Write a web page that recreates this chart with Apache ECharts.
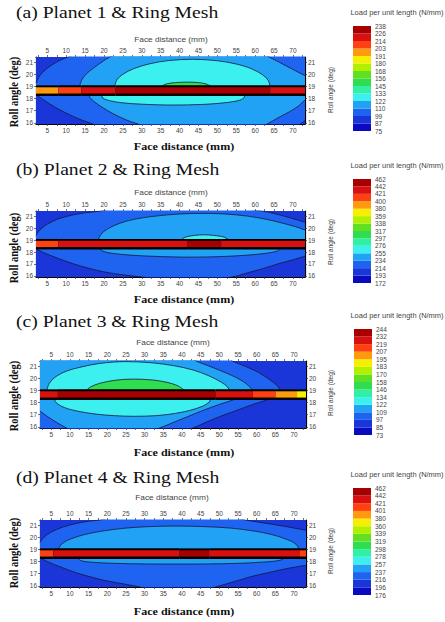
<!DOCTYPE html>
<html><head><meta charset="utf-8">
<script src="https://cdn.jsdelivr.net/npm/echarts@6/dist/echarts.min.js"></script>
<style>html,body{margin:0;padding:0;background:#fff}#c{width:445px;height:622px}</style>
</head><body><div id="c"></div>
<script>
// ---------- data ----------
const faceTicks = [5,10,15,20,25,30,35,40,45,50,55,60,65,70];
const faceMinorTicks = [2.5,5,7.5,10,12.5,15,17.5,20,22.5,25,27.5,30,32.5,35,37.5,40,42.5,45,47.5,50,52.5,55,57.5,60,62.5,65,67.5,70,72.5];
const rollTicks = [16,17,18,19,20,21];
const titles = ['(a) Planet 1 & Ring Mesh','(b) Planet 2 & Ring Mesh','(c) Planet 3 & Ring Mesh','(d) Planet 4 & Ring Mesh'];
// colour levels of the legend, bottom -> top
const palette = ['#0a0ac0','#1a36d8','#1e64f0','#22a2f4','#3cf0f0','#30f0a8','#30dc50','#60e020','#b0f000','#f4f000','#ff9a10','#ff4010','#d81010','#a80000'];
// legend boundary labels, bottom -> top
const legendA = [75,87,99,110,122,133,145,156,168,180,191,203,214,226,238];
const legendB = [172,193,214,234,255,276,297,317,338,359,380,400,421,442,462];
const legendC = [73,85,97,109,122,134,146,158,170,183,195,207,219,232,244];
const legendD = [176,196,216,237,257,278,298,319,339,360,380,401,421,442,462];
// contact line band (roll angle, deg): outer black band and inner loaded band
const stripOuter = [18.22, 19.1];
const stripInner = [18.42, 18.94];
// strip segments: [from mm, to mm, level]
const stripA = [[2,8,10],[8,14,11],[14,23,12],[23,64,13],[64,73.2,12]];
const stripB = [[2,8,11],[8,42,12],[42,51,13],[51,73.2,12]];
const stripC = [[2,6.8,12],[6.8,49,13],[49,59,12],[59,65,11],[65,70.8,10],[70.8,73.2,9]];
const stripD = [[2,5.6,11],[5.6,39.3,12],[39.3,47.3,13],[47.3,71.6,12],[71.6,73.2,11]];
// upper half contours: [level inside, boundary points (face mm, roll deg)] painted in order
const upperA = [
 [1, [[2,21.45],[73.2,21.45]]],
 [2, [[2,19.3],[3,19.9],[4.5,20.4],[6.5,20.85],[8.5,21.2],[10.5,21.45],[13,21.75],[20,22.2],[60,22.2],[73.2,22.2]]],
 [3, [[13.5,19.0],[14.2,19.6],[15.5,20.1],[17.5,20.6],[19.5,21.05],[21.5,21.45],[25,21.9],[35,22.2],[55,22.2],[61,21.9],[63.7,21.45],[66.5,21.0],[69.5,20.5],[73.2,19.9]]],
 [4, [[22.8,19.0],[23.5,19.59],[25,20.02],[28,20.5],[32,20.88],[37,21.15],[43.4,21.26],[50,21.14],[55,20.87],[59,20.48],[62,19.97],[63.4,19.54],[64,19.0]]],
 [6, [[35,19.0],[36.5,19.22],[39,19.33],[42,19.37],[45,19.33],[47,19.22],[48.5,19.0]]]
];
// lower half contours: [level outside (below), boundary points] painted in order
const lowerA = [
 [4, [[2,18.4],[73.2,18.4]]],
 [3, [[2,18.4],[19,18.4],[19.7,18.05],[21.5,17.83],[25,17.65],[30,17.54],[38.3,17.47],[46,17.52],[51,17.63],[55,17.8],[56.9,18.02],[57.6,18.4],[73.2,18.4]]],
 [2, [[2,18.4],[15.5,18.4],[16.5,18.0],[18.5,17.5],[21,17.0],[24,16.5],[27,16.1],[29,15.9],[31,15.6],[40,15.3],[55,15.3],[61,15.6],[63.2,15.9],[66,16.4],[69,16.9],[71.5,17.4],[73.2,17.9]]],
 [1, [[2,18.35],[4,17.9],[7,17.3],[10,16.8],[13.5,16.3],[17,15.9],[19,15.6],[30,15.3],[60,15.3],[70,15.6],[72,15.9],[73.2,16.2]]]
];
const upperB = [
 [1, [[2,21.45],[73.2,21.45]]],
 [2, [[2,19.4],[3,19.85],[5,20.35],[8,20.8],[11.5,21.1],[15,21.3],[19,21.45],[23,21.7],[40,22.0],[55,21.7],[62,21.45],[65.5,21.2],[69,20.9],[73.2,20.5]]],
 [3, [[18.5,19.0],[19.2,19.5],[21,19.95],[24,20.4],[28,20.75],[33,21.0],[40,21.2],[46,21.25],[52,21.2],[58,21.02],[63,20.75],[67,20.45],[70.5,20.15],[73.2,19.85]]],
 [4, [[40.4,19.0],[41.5,19.25],[44,19.4],[46.5,19.45],[49,19.4],[51.8,19.25],[53,19.0]]]
];
const lowerB = [
 [3, [[2,18.4],[73.2,18.4]]],
 [2, [[2,18.4],[18.5,18.4],[19.5,18.1],[22,17.9],[27,17.74],[33,17.64],[42.7,17.57],[52,17.63],[58,17.74],[63,17.9],[66,18.1],[67,18.4],[73.2,18.4]]],
 [1, [[2,18.3],[4,17.95],[8,17.45],[12,17.0],[16,16.63],[20,16.33],[25,16.08],[30,15.9],[35,15.7],[45,15.6],[54,15.9],[58,16.25],[62,16.6],[66,17.0],[69.5,17.3],[73.2,17.65]]]
];
const upperC = [
 [1, [[2,21.45],[73.2,21.45]]],
 [2, [[2,22.2],[48,22.2],[52,21.8],[53.5,21.45],[57,21.0],[60.5,20.5],[63.5,19.9],[65.5,19.4],[66.3,19.0]]],
 [3, [[2,22.2],[38,22.2],[42,21.8],[43.8,21.45],[47.5,21.0],[51.5,20.5],[55,20.0],[57.5,19.5],[58.9,19.0]]],
 [4, [[3.8,19.0],[4.5,19.6],[6,20.1],[9,20.6],[13,20.95],[18,21.25],[25,21.4],[32,21.3],[38,21.05],[43,20.7],[47,20.25],[50.5,19.7],[52.2,19.3],[52.7,19.0]]],
 [6, [[14.4,19.0],[15.5,19.3],[18,19.6],[22,19.85],[27,19.95],[32,19.88],[36,19.68],[39,19.38],[40.7,19.0]]]
];
const lowerC = [
 [4, [[2,18.4],[73.2,18.4]]],
 [3, [[2,18.4],[5.5,18.4],[6.3,18.0],[8.5,17.6],[12,17.3],[17,17.05],[22,16.92],[27,16.87],[33,16.92],[38,17.1],[42,17.35],[45.5,17.7],[47.3,18.05],[48,18.4],[73.2,18.4]]],
 [2, [[2,17.3],[4,16.85],[6.5,16.35],[9.1,15.9],[11,15.6],[20,15.4],[30,15.5],[34,15.9],[38,16.4],[42,16.9],[46,17.4],[50,17.85],[53.5,18.2],[55.4,18.4],[73.2,18.4]]],
 [1, [[2,15.5],[38,15.5],[42.9,15.9],[47,16.45],[51,16.95],[55,17.4],[59,17.85],[62.5,18.2],[64.2,18.4],[73.2,18.4]]]
];
const upperD = [
 [1, [[2,21.45],[73.2,21.45]]],
 [2, [[2,19.6],[3,20.0],[5,20.45],[8,20.85],[11.5,21.15],[15,21.35],[18,21.45],[22,21.7],[40,21.9],[53,21.7],[57,21.45],[62,21.2],[67,20.95],[73.2,20.6]]],
 [3, [[6.8,19.0],[7.8,19.45],[10,19.85],[14,20.25],[19,20.55],[25,20.78],[31,20.9],[38.4,20.95],[46,20.9],[53,20.78],[59,20.55],[64,20.25],[68,19.85],[70.5,19.45],[71.4,19.0]]]
];
const lowerD = [
 [3, [[2,18.4],[73.2,18.4]]],
 [2, [[2,18.4],[11.8,18.4],[12.8,18.1],[16,17.95],[22,17.86],[30,17.81],[38.4,17.8],[47,17.81],[55,17.86],[61,17.95],[66,18.1],[68.7,18.4],[73.2,18.4]]],
 [1, [[2,18.35],[4,18.0],[8,17.5],[12,17.05],[16,16.7],[20,16.4],[24.5,16.15],[28.7,15.9],[33,15.6],[45,15.6],[49,15.9],[54,16.35],[59,16.8],[64,17.15],[68.5,17.45],[73.2,17.7]]]
];

// ---------- layout ----------
const panels = [
 {title:titles[0], upper:upperA, lower:lowerA, strip:stripA, legend:legendA},
 {title:titles[1], upper:upperB, lower:lowerB, strip:stripB, legend:legendB},
 {title:titles[2], upper:upperC, lower:lowerC, strip:stripC, legend:legendC},
 {title:titles[3], upper:upperD, lower:lowerD, strip:stripD, legend:legendD}
];
const layouts = [
 {grid:[36,57,269,67], bar:[353,26,18,105], titleY:13, topNameX:171, topNameY:40, botNameY:146, leftNameY:92, rightNameY:90, legTitleY:13},
 {grid:[36,211,269,66], bar:[353,179,18,104], titleY:169.5, topNameX:171, topNameY:193, botNameY:299, leftNameY:248, rightNameY:242, legTitleY:166},
 {grid:[40,361,266,67], bar:[354,329,18,106], titleY:322, topNameX:173, topNameY:343, botNameY:452, leftNameY:396, rightNameY:393, legTitleY:316},
 {grid:[40,520,266,67], bar:[353,488,18,107], titleY:478, topNameX:172, topNameY:498, botNameY:611, leftNameY:553, rightNameY:551, legTitleY:475}
];
const SANS = '"Liberation Sans", Arial, sans-serif';
const SERIF = '"Liberation Serif", "Times New Roman", serif';

function faceAxis(g, pos) {
  return {type:'value', gridIndex:g, position:pos, min:2, max:73.2,
    axisLine:{show:true, onZero:false, lineStyle:{color:'#000', width:1.2}},
    axisTick:{show:true, customValues:faceMinorTicks, length:2, lineStyle:{color:'#333', width:0.7}},
    axisLabel:{show:true, customValues:faceTicks, fontSize:6.5, fontFamily:SANS, color:'#444', margin:3},
    splitLine:{show:false}};
}
function rollAxis(g, pos) {
  return {type:'value', gridIndex:g, position:pos, min:15.9, max:21.45,
    axisLine:{show:true, onZero:false, lineStyle:{color:'#000', width:1.2}},
    axisTick:{show:true, customValues:rollTicks, length:2, lineStyle:{color:'#333', width:0.7}},
    axisLabel:{show:true, customValues:rollTicks, fontSize:6.5, fontFamily:SANS, color:'#444', margin:3},
    splitLine:{show:false}};
}
function legendAxis(g, labels) {
  return {type:'value', gridIndex:g, position:'right', min:0, max:14, interval:1,
    axisLine:{show:false}, axisTick:{show:false}, splitLine:{show:false},
    axisLabel:{fontSize:6.5, fontFamily:SANS, color:'#444', margin:4,
      formatter: v => String(labels[Math.round(v)])}};
}
function contour(lvl, pts, base, xi, yi) {
  return {type:'line', xAxisIndex:xi, yAxisIndex:yi, data:pts, smooth:0.35, symbol:'none',
    lineStyle: base ? {opacity:0, width:0} : {color:'#16163a', width:0.8},
    areaStyle:{color:palette[lvl], opacity:1, origin:'start'},
    clip:true, silent:true, animation:false, z:2};
}

const grids=[], xAxes=[], yAxes=[], series=[], graphics=[];
panels.forEach((p, i) => {
  const L = layouts[i];
  const g = 2*i, gl = 2*i+1, a = 3*i;
  grids.push({left:L.grid[0], top:L.grid[1], width:L.grid[2], height:L.grid[3], containLabel:false});
  grids.push({left:L.bar[0], top:L.bar[1], width:L.bar[2], height:L.bar[3], containLabel:false});
  xAxes.push(faceAxis(g,'bottom'), faceAxis(g,'top'), {type:'value', gridIndex:gl, min:0, max:1, show:false});
  yAxes.push(rollAxis(g,'left'), rollAxis(g,'right'), legendAxis(gl, p.legend));
  p.upper.forEach(([lvl, pts], k) => series.push(contour(lvl, pts, k===0, a, a)));
  p.lower.forEach(([lvl, pts], k) => series.push(contour(lvl, pts, k===0, a, a)));
  series.push({type:'custom', xAxisIndex:a, yAxisIndex:a, data:p.strip, z:5, clip:true, silent:true, animation:false,
    renderItem(params, api) {
      const x0 = api.value(0), x1 = api.value(1), lvl = api.value(2);
      const o0 = api.coord([x0, stripOuter[1]]), o1 = api.coord([x1, stripOuter[0]]);
      const n0 = api.coord([x0, stripInner[1]]), n1 = api.coord([x1, stripInner[0]]);
      return {type:'group', children:[
        {type:'rect', shape:{x:o0[0], y:o0[1], width:o1[0]-o0[0], height:o1[1]-o0[1]}, style:{fill:'#000'}},
        {type:'rect', shape:{x:n0[0], y:n0[1], width:n1[0]-n0[0], height:n1[1]-n0[1]}, style:{fill:palette[lvl]}}
      ]};
    }});
  series.push({type:'custom', xAxisIndex:a+2, yAxisIndex:a+2, data:palette.map((c,k)=>[0.5,k]), silent:true, animation:false,
    renderItem(params, api) {
      const k = api.value(1);
      const p0 = api.coord([0,k]), p1 = api.coord([1,k+1]);
      return {type:'rect', shape:{x:p0[0], y:p1[1], width:p1[0]-p0[0], height:p0[1]-p1[1]}, style:{fill:palette[k]}};
    }});
  graphics.push(
    {type:'text', x:16, y:L.titleY, scaleX:1.19, style:{text:p.title, font:'16.5px '+SERIF, fill:'#111', textAlign:'left', textVerticalAlign:'middle', align:'left', verticalAlign:'middle'}},
    {type:'text', x:L.topNameX, y:L.topNameY, scaleX:1.19, style:{text:'Face distance (mm)', font:'7px '+SANS, fill:'#444', textAlign:'center', textVerticalAlign:'middle', align:'center', verticalAlign:'middle'}},
    {type:'text', x:184, y:L.botNameY, scaleX:1.15, style:{text:'Face distance (mm)', font:'bold 10.5px '+SERIF, fill:'#111', textAlign:'center', textVerticalAlign:'middle', align:'center', verticalAlign:'middle'}},
    {type:'text', x:13.5, y:L.leftNameY, rotation:Math.PI/2, scaleY:1.19, style:{text:'Roll angle (deg)', font:'bold 10.5px '+SERIF, fill:'#111', textAlign:'center', textVerticalAlign:'middle', align:'center', verticalAlign:'middle'}},
    {type:'text', x:330, y:L.rightNameY, rotation:Math.PI/2, scaleY:1.1, style:{text:'Roll angle (deg)', font:'6.5px '+SANS, fill:'#444', textAlign:'center', textVerticalAlign:'middle', align:'center', verticalAlign:'middle'}},
    {type:'text', x:397, y:L.legTitleY, scaleX:1.19, style:{text:'Load per unit length (N/mm)', font:'6.3px '+SANS, fill:'#444', textAlign:'center', textVerticalAlign:'middle', align:'center', verticalAlign:'middle'}}
  );
});

const chart = echarts.init(document.getElementById('c'), null, {renderer:'svg', width:445, height:622});
chart.setOption({
  animation:false,
  backgroundColor:'#fff',
  grid:grids, xAxis:xAxes, yAxis:yAxes, series:series,
  graphic:{elements:graphics}
});
</script>
</body></html>
